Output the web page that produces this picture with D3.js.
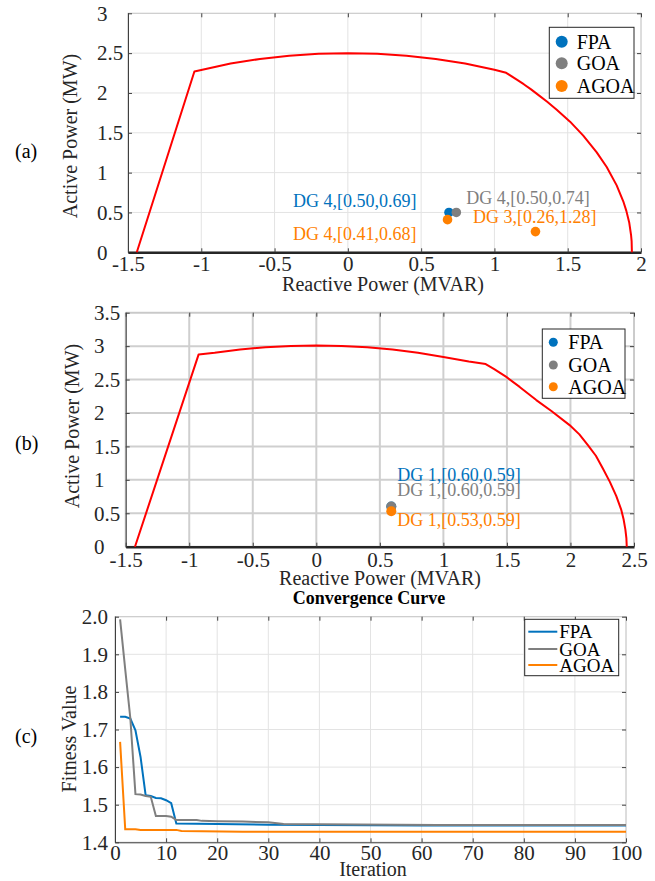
<!DOCTYPE html>
<html>
<head>
<meta charset="utf-8">
<script src="https://cdn.jsdelivr.net/npm/d3@7"></script>
<style>
  body { margin: 0; background: #fff; }
  svg { display: block; }
</style>
</head>
<body>
<svg id="chart" width="655" height="881"></svg>
<script>
// ---- data ----
const algNames = ["FPA", "GOA", "AGOA"];

// (a) capability curve, [Q (MVAR), P (MW)]
const curveA = [[-1.44, 0], [-1.047, 2.27], [-0.9, 2.33], [-0.8, 2.369], [-0.6, 2.427], [-0.4, 2.468],
  [-0.2, 2.492], [0, 2.5], [0.2, 2.492], [0.4, 2.468], [0.6, 2.427], [0.8, 2.369], [1.0, 2.291],
  [1.08, 2.253], [1.15, 2.17], [1.2, 2.11], [1.25, 2.045], [1.31, 1.96], [1.36, 1.89], [1.425, 1.79],
  [1.516, 1.64], [1.606, 1.465], [1.698, 1.255], [1.766, 1.07], [1.834, 0.84], [1.879, 0.64],
  [1.90, 0.52], [1.92, 0.37], [1.932, 0.22], [1.936, 0.14], [1.938, 0]];
const xTicksA = [-1.5, -1, -0.5, 0, 0.5, 1, 1.5, 2];
const yTicksA = [0, 0.5, 1, 1.5, 2, 2.5, 3];
const ptsA = [
  { alg: 0, dg: 4, p: 0.50, q: 0.69 },
  { alg: 1, dg: 4, p: 0.50, q: 0.74 },
  { alg: 2, dg: 4, p: 0.41, q: 0.68 },
  { alg: 2, dg: 3, p: 0.26, q: 1.28 }
];

// (b) capability curve
const curveB = [[-1.427, 0], [-0.926, 2.876], [-0.8, 2.90], [-0.6, 2.95], [-0.4, 2.983], [-0.2, 3.003],
  [0, 3.01], [0.2, 3.003], [0.4, 2.983], [0.6, 2.95], [0.8, 2.90], [1.0, 2.839], [1.2, 2.77],
  [1.333, 2.731], [1.4, 2.655], [1.495, 2.54], [1.6, 2.39], [1.731, 2.193], [1.85, 2.03],
  [1.993, 1.819], [2.07, 1.68], [2.137, 1.52], [2.2, 1.36], [2.255, 1.17], [2.31, 0.97],
  [2.36, 0.76], [2.40, 0.55], [2.418, 0.41], [2.432, 0.26], [2.44, 0.13], [2.443, 0]];
const xTicksB = [-1.5, -1, -0.5, 0, 0.5, 1, 1.5, 2, 2.5];
const yTicksB = [0, 0.5, 1, 1.5, 2, 2.5, 3, 3.5];
const ptsB = [
  { alg: 0, dg: 1, p: 0.60, q: 0.59 },
  { alg: 1, dg: 1, p: 0.60, q: 0.59 },
  { alg: 2, dg: 1, p: 0.53, q: 0.59 }
];

// (c) convergence curves (iteration, fitness) at the points where they change
const iterFPA = [1, 2, 3, 4, 5, 6, 7, 8, 9, 10, 11, 12, 20, 30, 40, 60, 100];
const fitFPA = [1.734, 1.734, 1.729, 1.698, 1.627, 1.525, 1.523, 1.518, 1.517, 1.512, 1.504, 1.450,
  1.449, 1.447, 1.446, 1.445, 1.445];
const iterGOA = [1, 2, 3, 4, 5, 6, 7, 8, 9, 10, 11, 12, 16, 17, 20, 25, 30, 33, 40, 63, 100];
const fitGOA = [1.993, 1.86, 1.73, 1.528, 1.527, 1.523, 1.521, 1.470, 1.470, 1.470, 1.468, 1.459,
  1.459, 1.457, 1.456, 1.455, 1.453, 1.449, 1.448, 1.446, 1.446];
const iterAGOA = [1, 2, 4, 5, 12, 13, 25, 100];
const fitAGOA = [1.667, 1.435, 1.435, 1.433, 1.433, 1.430, 1.428, 1.428];
const xTicksC = [0, 10, 20, 30, 40, 50, 60, 70, 80, 90, 100];
const yTicksC = [1.4, 1.5, 1.6, 1.7, 1.8, 1.9, 2.0];

// ---- styles ----
const serif = "'Liberation Serif', 'Times New Roman', serif";
const colors = ["#0072BD", "#7f7f7f", "#FF8000"];
const textCol = "#262626";

const svg = d3.select("#chart");
svg.append("rect").attr("width", 655).attr("height", 881).attr("fill", "#fff");

function frame(o) {
  const x = d3.scaleLinear().domain(o.xDomain).range(o.xRange);
  const y = d3.scaleLinear().domain(o.yDomain).range(o.yRange);
  const g = svg.append("g");

  // grid
  g.append("g").selectAll("line").data(o.xTicks).join("line")
    .attr("x1", d => x(d)).attr("x2", d => x(d))
    .attr("y1", o.yRange[0]).attr("y2", o.yRange[1])
    .attr("stroke", o.grid).attr("stroke-width", o.gridW);
  g.append("g").selectAll("line").data(o.yTicks).join("line")
    .attr("y1", d => y(d)).attr("y2", d => y(d))
    .attr("x1", o.xRange[0]).attr("x2", o.xRange[1])
    .attr("stroke", o.grid).attr("stroke-width", o.gridW);

  // box
  g.append("rect")
    .attr("x", o.xRange[0]).attr("y", o.yRange[1])
    .attr("width", o.xRange[1] - o.xRange[0]).attr("height", o.yRange[0] - o.yRange[1])
    .attr("fill", "none").attr("stroke", "#c8c8c8");

  // top and right inward ticks
  g.append("g").attr("transform", `translate(0,${o.yRange[1]})`)
    .call(d3.axisTop(x).tickValues(o.xTicks).tickSize(-4).tickSizeOuter(0).tickFormat(""))
    .call(s => s.select(".domain").remove())
    .selectAll("line").attr("stroke", "#404040");
  g.append("g").attr("transform", `translate(${o.xRange[1]},0)`)
    .call(d3.axisRight(y).tickValues(o.yTicks).tickSize(-4).tickSizeOuter(0).tickFormat(""))
    .call(s => s.select(".domain").remove())
    .selectAll("line").attr("stroke", "#404040");

  // left axis
  const ya = g.append("g").attr("transform", `translate(${o.xRange[0]},0)`)
    .call(d3.axisLeft(y).tickValues(o.yTicks).tickSize(-4).tickSizeOuter(0).tickFormat(o.yFmt));
  ya.attr("font-family", serif).attr("font-size", 21);
  ya.select(".domain").attr("stroke", "#404040");
  ya.selectAll("line").attr("stroke", "#404040");
  ya.selectAll("text").attr("fill", textCol)
    .attr("text-anchor", o.yAnchor).attr("x", o.yLabX - o.xRange[0]);

  // bottom axis
  const xa = g.append("g").attr("transform", `translate(0,${o.yRange[0]})`)
    .call(d3.axisBottom(x).tickValues(o.xTicks).tickSize(-4).tickSizeOuter(0)
      .tickPadding(o.xPad).tickFormat(o.xFmt));
  xa.attr("font-family", serif).attr("font-size", 21);
  xa.select(".domain").attr("stroke", o.baseCol).attr("stroke-width", o.baseW);
  xa.selectAll("line").attr("stroke", "#404040");
  xa.selectAll("text").attr("fill", textCol);

  return { x, y, g };
}

function axisTitles(o) {
  svg.append("text").attr("x", o.xt[0]).attr("y", o.xt[1])
    .attr("text-anchor", "middle").attr("font-family", serif).attr("font-size", 20)
    .attr("fill", textCol).text(o.xLabel);
  svg.append("text")
    .attr("transform", `translate(${o.yt[0]},${o.yt[1]}) rotate(-90)`)
    .attr("text-anchor", "middle").attr("font-family", serif).attr("font-size", 20)
    .attr("fill", textCol).text(o.yLabel);
  svg.append("text").attr("x", 15).attr("y", o.tag[1])
    .attr("font-family", serif).attr("font-size", 20).attr("fill", "#000").text(o.tag[0]);
}

const fmtPlain = d => String(d);

function capPanel(o) {
  const { x, y } = frame(o);
  const line = d3.line().x(d => x(d[0])).y(d => y(d[1]));
  svg.append("path").datum(o.curve).attr("d", line)
    .attr("fill", "none").attr("stroke", "#ff0000").attr("stroke-width", 2)
    .attr("stroke-linejoin", "round");

  svg.append("g").selectAll("circle").data(o.pts).join("circle")
    .attr("cx", d => x(d.q)).attr("cy", d => y(d.p)).attr("r", o.ptR)
    .attr("fill", d => colors[d.alg]);

  svg.append("g").selectAll("text").data(o.pts).join("text")
    .attr("x", (d, i) => x(d.q) + o.lblOff[i][0])
    .attr("y", (d, i) => y(d.p) + o.lblOff[i][1])
    .attr("font-family", serif).attr("font-size", 18)
    .attr("fill", d => colors[d.alg])
    .text(d => `DG ${d.dg},[${d.p.toFixed(2)},${d.q.toFixed(2)}]`);

  // legend
  const L = o.legend;
  svg.append("rect").attr("x", L.box[0]).attr("y", L.box[1])
    .attr("width", L.box[2]).attr("height", L.box[3])
    .attr("fill", "#fff").attr("stroke", "#262626").attr("stroke-width", 1);
  const lg = svg.append("g").selectAll("g").data(algNames).join("g")
    .attr("transform", (d, i) => `translate(${L.mx},${L.rows[i]})`);
  lg.append("circle").attr("r", L.r).attr("fill", (d, i) => colors[i]);
  lg.append("text").attr("x", L.tx - L.mx).attr("dy", "0.35em")
    .attr("font-family", serif).attr("font-size", 20).attr("fill", "#000").text(d => d);

  axisTitles(o);
}

// ---- (a) ----
capPanel({
  xDomain: [-1.5, 2], xRange: [128, 641],
  yDomain: [0, 3], yRange: [252.3, 13.3],
  xTicks: xTicksA, yTicks: yTicksA, xFmt: fmtPlain, yFmt: fmtPlain,
  grid: "#e3e3e3", gridW: 1, baseCol: "#262626", baseW: 2.5,
  yAnchor: "start", yLabX: 97, xPad: 4,
  curve: curveA, pts: ptsA, ptR: 4.8,
  lblOff: [[-156, -5.5], [10, -8], [-154.5, 20], [-62.5, -8.6]],
  legend: { box: [549.3, 27.3, 84.7, 71], mx: 561.7, tx: 576.7, rows: [41.7, 63.3, 86], r: 6 },
  xLabel: "Reactive Power (MVAR)", xt: [383, 291],
  yLabel: "Active Power (MW)", yt: [77, 136],
  tag: ["(a)", 158]
});

// ---- (b) ----
capPanel({
  xDomain: [-1.5, 2.5], xRange: [125.7, 634],
  yDomain: [0, 3.5], yRange: [546.7, 312.7],
  xTicks: xTicksB, yTicks: yTicksB, xFmt: fmtPlain, yFmt: fmtPlain,
  grid: "#cfcfcf", gridW: 2, baseCol: "#262626", baseW: 2.5,
  yAnchor: "start", yLabX: 94, xPad: 5,
  curve: curveB, pts: ptsB, ptR: 5,
  lblOff: [[6, -25.6], [6, -10.6], [6, 14.7]],
  legend: { box: [542.3, 329, 82.7, 69.3], mx: 553.3, tx: 568.3, rows: [342.3, 365, 386.7], r: 4.5 },
  xLabel: "Reactive Power (MVAR)", xt: [380, 585],
  yLabel: "Active Power (MW)", yt: [79, 426],
  tag: ["(b)", 450]
});

// ---- (c) ----
{
  const o = {
    xDomain: [0, 100], xRange: [115, 626],
    yDomain: [1.4, 2.0], yRange: [842.3, 616.7],
    xTicks: xTicksC, yTicks: yTicksC, xFmt: fmtPlain, yFmt: d3.format(".1f"),
    grid: "#e3e3e3", gridW: 1, baseCol: "#404040", baseW: 1,
    yAnchor: "end", yLabX: 108, xPad: 3,
    xLabel: "Iteration", xt: [373, 876],
    yLabel: "Fitness Value", yt: [76, 739],
    tag: ["(c)", 743]
  };
  const { x, y } = frame(o);
  const series = [
    { name: "FPA", it: iterFPA, v: fitFPA },
    { name: "GOA", it: iterGOA, v: fitGOA },
    { name: "AGOA", it: iterAGOA, v: fitAGOA }
  ];
  const line = d3.line().x(d => x(d[0])).y(d => y(d[1]));
  svg.append("g").selectAll("path").data(series).join("path")
    .attr("d", s => line(s.it.map((t, i) => [t, s.v[i]])))
    .attr("fill", "none").attr("stroke", (s, i) => colors[i]).attr("stroke-width", 2);

  svg.append("text").attr("x", 369).attr("y", 604).attr("text-anchor", "middle")
    .attr("font-family", serif).attr("font-size", 18).attr("font-weight", "bold")
    .attr("fill", "#000").text("Convergence Curve");

  svg.append("rect").attr("x", 524.7).attr("y", 619.3).attr("width", 94).attr("height", 56.4)
    .attr("fill", "#fff").attr("stroke", "#262626").attr("stroke-width", 1);
  const rows = [631.7, 649, 665];
  const lg = svg.append("g").selectAll("g").data(series).join("g")
    .attr("transform", (d, i) => `translate(0,${rows[i]})`);
  lg.append("line").attr("x1", 528.3).attr("x2", 557.3)
    .attr("stroke", (d, i) => colors[i]).attr("stroke-width", 2);
  lg.append("text").attr("x", 559.3).attr("dy", "0.35em")
    .attr("font-family", serif).attr("font-size", 19).attr("fill", "#000").text(d => d.name);

  axisTitles(o);
}
</script>
</body>
</html>
